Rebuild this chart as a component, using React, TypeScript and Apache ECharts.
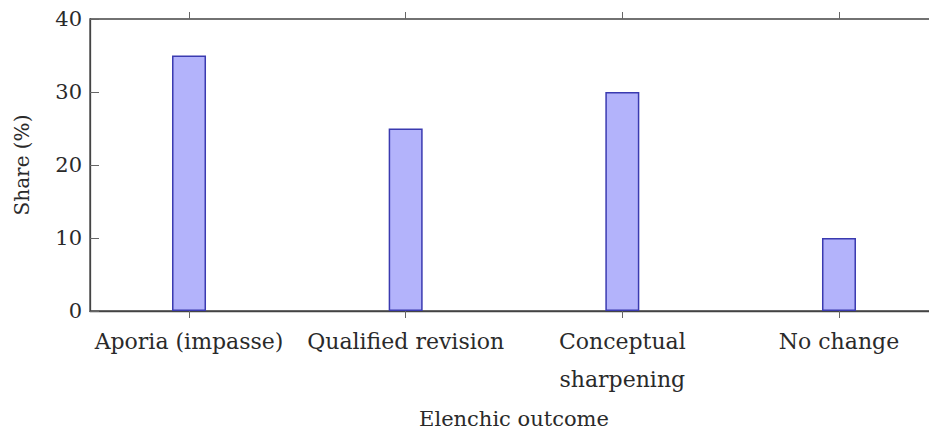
import React, { useEffect, useRef } from "react";
import * as echarts from "echarts";

const categories = ["Aporia (impasse)", "Qualified revision", "Conceptual\nsharpening", "No change"];
const shares = [35, 25, 30, 10];
const yTicks = [0, 10, 20, 30, 40];
const xTitle = "Elenchic outcome";
const yTitle = "Share (%)";

const FONT = "DejaVu Serif";
const TXT = "#2a2a2a";

export default function App() {
  const ref = useRef<HTMLDivElement>(null);
  useEffect(() => {
    const chart = echarts.init(ref.current!, undefined, { renderer: "svg" });
    const idx = categories.map((_, i) => i);
    const xMin = -0.457;
    const xMax = 3.457;
    chart.setOption({
      animation: false,
      backgroundColor: "#ffffff",
      grid: { left: 90, right: 12, top: 19, bottom: 121, show: true, borderColor: "#444", borderWidth: 1.3, containLabel: false },
      xAxis: [
        {
          type: "value",
          min: xMin,
          max: xMax,
          name: xTitle,
          nameLocation: "middle",
          nameGap: 97,
          nameTextStyle: { fontFamily: FONT, fontSize: 21, color: TXT },
          axisLine: { show: true, onZero: false, lineStyle: { color: "#444", width: 1.3 } },
          axisTick: { show: true, inside: false, length: 7, customValues: idx, lineStyle: { color: "#666" } },
          axisLabel: {
            customValues: idx,
            formatter: (v: number) => categories[Math.round(v)] ?? "",
            fontFamily: FONT,
            fontSize: 22,
            color: TXT,
            margin: 11,
            lineHeight: 38,
          },
          splitLine: { show: false },
        },
        {
          type: "value",
          position: "top",
          min: xMin,
          max: xMax,
          axisLine: { show: false, onZero: false },
          axisTick: { show: true, inside: false, length: 7, customValues: idx, lineStyle: { color: "#666" } },
          axisLabel: { show: false },
          splitLine: { show: false },
        },
      ],
      yAxis: [
        {
          type: "value",
          min: yTicks[0],
          max: yTicks[yTicks.length - 1],
          interval: 10,
          name: yTitle,
          nameLocation: "middle",
          nameGap: 58,
          nameTextStyle: { fontFamily: FONT, fontSize: 20, color: TXT },
          axisLine: { show: true, onZero: false, lineStyle: { color: "#444", width: 1.3 } },
          axisTick: { show: true, inside: true, length: 9, lineStyle: { color: "#666" } },
          axisLabel: { fontFamily: FONT, fontSize: 21, color: TXT, margin: 8 },
          splitLine: { show: false },
        },
        {
          type: "value",
          position: "right",
          min: yTicks[0],
          max: yTicks[yTicks.length - 1],
          interval: 10,
          axisLine: { show: false, onZero: false },
          axisTick: { show: true, inside: true, length: 9, lineStyle: { color: "#666" } },
          axisLabel: { show: false },
          splitLine: { show: false },
        },
      ],
      series: [
        {
          type: "bar",
          xAxisIndex: 0,
          yAxisIndex: 0,
          barWidth: 34,
          data: shares.map((v, i) => [i, v]),
          itemStyle: { color: "#b3b3fb", borderColor: "#3a3ab0", borderWidth: 1.5 },
        },
      ],
    });
    return () => chart.dispose();
  }, []);
  return (
    <div style={{ position: "fixed", left: 0, top: 0, width: 929, height: 434, overflow: "hidden", background: "#fff" }}>
      <div ref={ref} style={{ width: 950, height: 434 }} />
    </div>
  );
}
